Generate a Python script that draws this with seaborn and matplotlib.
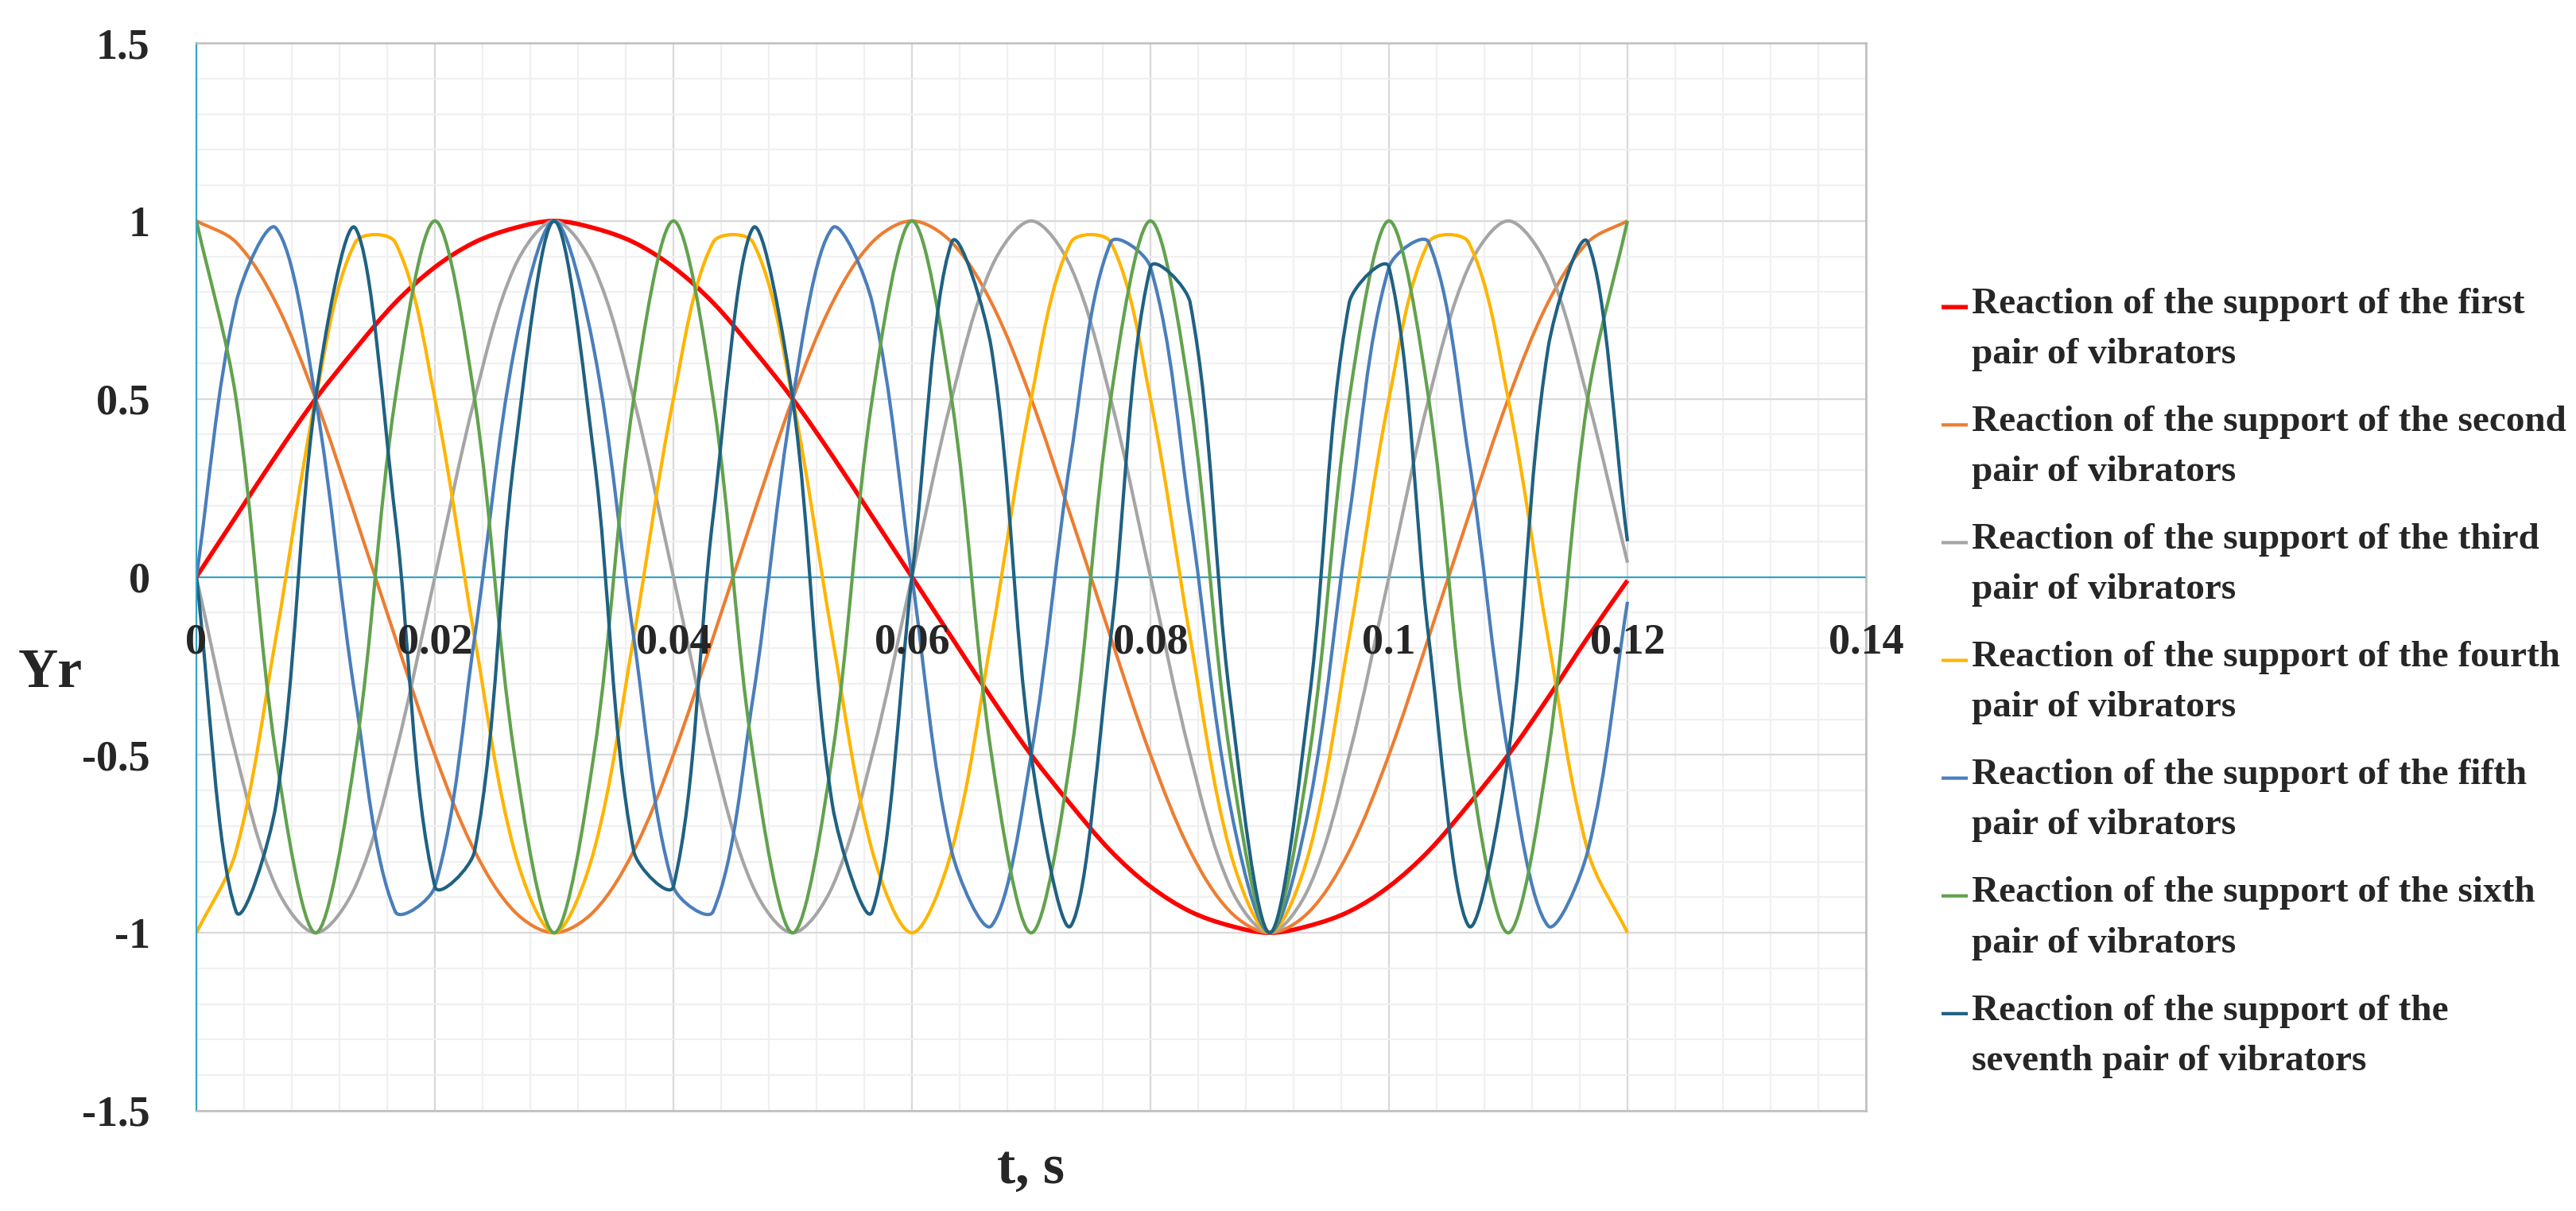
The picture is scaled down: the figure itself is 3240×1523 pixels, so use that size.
import numpy as np
import pandas as pd
import matplotlib
matplotlib.use("Agg")
import matplotlib.pyplot as plt
import matplotlib.patheffects as pe
from matplotlib.path import Path
from matplotlib.transforms import IdentityTransform
from matplotlib.ticker import MultipleLocator
from matplotlib.legend_handler import HandlerLine2D
from matplotlib.lines import Line2D
from matplotlib.font_manager import FontProperties
import seaborn as sns

# ---------------- data ----------------
t = [0, 0.00333, 0.00667, 0.01, 0.01333, 0.01667, 0.02, 0.02333, 0.02667, 0.03,
     0.03333, 0.03667, 0.04, 0.04333, 0.04667, 0.05, 0.05333, 0.05667, 0.06,
     0.06333, 0.06667, 0.07, 0.07333, 0.07667, 0.08, 0.08333, 0.08667, 0.09,
     0.09333, 0.09667, 0.1, 0.10333, 0.10667, 0.11, 0.11333, 0.11667, 0.12]

first = [0, 0.17, 0.34, 0.5, 0.64, 0.77, 0.87, 0.94, 0.98, 1, 0.98, 0.94, 0.87,
         0.77, 0.64, 0.5, 0.34, 0.17, 0, -0.17, -0.34, -0.5, -0.64, -0.77, -0.87,
         -0.94, -0.98, -1, -0.98, -0.94, -0.87, -0.77, -0.64, -0.5, -0.34, -0.17, -0.01]

second = [1, 0.94, 0.77, 0.5, 0.17, -0.17, -0.5, -0.77, -0.94, -1, -0.94, -0.77,
          -0.5, -0.17, 0.17, 0.5, 0.77, 0.94, 1, 0.94, 0.77, 0.5, 0.17, -0.17, -0.5,
          -0.77, -0.94, -1, -0.94, -0.77, -0.5, -0.17, 0.17, 0.5, 0.77, 0.94, 1]

third = [0, -0.5, -0.87, -1, -0.87, -0.5, 0, 0.5, 0.87, 1, 0.87, 0.5,
         0, -0.5, -0.87, -1, -0.87, -0.5, 0, 0.5, 0.87, 1, 0.87, 0.5,
         0, -0.5, -0.87, -1, -0.87, -0.5, 0, 0.5, 0.87, 1, 0.87, 0.5, 0.04]

fourth = [-1, -0.77, -0.17, 0.5, 0.94, 0.94, 0.5, -0.17, -0.77,
          -1, -0.77, -0.17, 0.5, 0.94, 0.94, 0.5, -0.17, -0.77,
          -1, -0.77, -0.17, 0.5, 0.94, 0.94, 0.5, -0.17, -0.77,
          -1, -0.77, -0.17, 0.5, 0.94, 0.94, 0.5, -0.17, -0.77, -1]

fifth = [0, 0.77, 0.98, 0.5, -0.34, -0.94, -0.87, -0.17, 0.64, 1, 0.64, -0.17,
         -0.87, -0.94, -0.34, 0.5, 0.98, 0.77, 0, -0.77, -0.98, -0.5, 0.34, 0.94,
         0.87, 0.17, -0.64, -1, -0.64, 0.17, 0.87, 0.94, 0.34, -0.5, -0.98, -0.77, -0.07]

sixth = [1, 0.5, -0.5, -1, -0.5, 0.5, 1, 0.5, -0.5, -1, -0.5, 0.5,
         1, 0.5, -0.5, -1, -0.5, 0.5, 1, 0.5, -0.5, -1, -0.5, 0.5,
         1, 0.5, -0.5, -1, -0.5, 0.5, 1, 0.5, -0.5, -1, -0.5, 0.5, 1]

seventh = [0, -0.94, -0.64, 0.5, 0.98, 0.17, -0.87, -0.77, 0.34, 1, 0.34, -0.77,
           -0.87, 0.17, 0.98, 0.5, -0.64, -0.94, 0, 0.94, 0.64, -0.5, -0.98, -0.17,
           0.87, 0.77, -0.34, -1, -0.34, 0.77, 0.87, -0.17, -0.98, -0.5, 0.64, 0.94, 0.1]

series_names = [
    "Reaction of the support of the first\npair of vibrators",
    "Reaction of the support of the second\npair of vibrators",
    "Reaction of the support of the third\npair of vibrators",
    "Reaction of the support of the fourth\npair of vibrators",
    "Reaction of the support of the fifth\npair of vibrators",
    "Reaction of the support of the sixth\npair of vibrators",
    "Reaction of the support of the\nseventh pair of vibrators",
]
series_values = [first, second, third, fourth, fifth, sixth, seventh]
colors = ["#FF0000", "#ED7D31", "#A5A5A5", "#FFB400", "#4A7EBB", "#62A24E", "#1F6182"]
widths = [2.0, 1.5, 1.5, 1.5, 1.5, 1.5, 1.5]

x_ticks = [0, 0.02, 0.04, 0.06, 0.08, 0.1, 0.12, 0.14]
x_labels = ["0", "0.02", "0.04", "0.06", "0.08", "0.1", "0.12", "0.14"]
y_ticks = [-1.5, -1, -0.5, 0, 0.5, 1, 1.5]
y_labels = ["-1.5", "-1", "-0.5", "0", "0.5", "1", "1.5"]

df = pd.DataFrame({
    "t": t * len(series_names),
    "Yr": [v for vals in series_values for v in vals],
    "series": [n for n in series_names for _ in t],
})


# ------------- Excel-like smoothed line rendering -------------
class ExcelSmooth(pe.AbstractPathEffect):
    """Draws the polyline as a smoothed (Bezier) line, like Excel's 'smoothed line'."""

    def draw_path(self, renderer, gc, tpath, affine, rgbFace=None):
        pts = affine.transform(tpath.vertices)
        n = len(pts)
        if n < 3:
            renderer.draw_path(gc, tpath, affine, rgbFace)
            return
        verts = [pts[0]]
        codes = [Path.MOVETO]
        for i in range(n - 1):
            p0 = pts[i - 1] if i > 0 else pts[i]
            p1 = pts[i]
            p2 = pts[i + 1]
            p3 = pts[i + 2] if i + 2 < n else pts[i + 1]
            d01 = np.hypot(*(p1 - p0))
            d12 = np.hypot(*(p2 - p1))
            d23 = np.hypot(*(p3 - p2))
            f1 = d12 / (3 * (d01 + d12)) if (d01 + d12) > 0 else 0
            f2 = d12 / (3 * (d12 + d23)) if (d12 + d23) > 0 else 0
            c1 = p1 + (p2 - p0) * f1
            c2 = p2 - (p3 - p1) * f2
            verts += [c1, c2, p2]
            codes += [Path.CURVE4] * 3
        renderer.draw_path(gc, Path(np.array(verts), codes), IdentityTransform(), rgbFace)


class TopLineHandler(HandlerLine2D):
    def __init__(self, dy, **kw):
        super().__init__(**kw)
        self.dy = dy

    def create_artists(self, legend, orig_handle, xdescent, ydescent, width,
                       height, fontsize, trans):
        arts = super().create_artists(legend, orig_handle, xdescent, ydescent,
                                      width, height, fontsize, trans)
        for a in arts:
            if isinstance(a, Line2D):
                a.set_ydata(np.asarray(a.get_ydata(), dtype=float) + self.dy)
        return arts


# ---------------- figure ----------------
sns.set_style("white")
plt.rcParams["font.family"] = ["Liberation Serif", "DejaVu Serif"]
plt.rcParams["font.weight"] = "bold"

W, H = 3240, 1523
fig = plt.figure(figsize=(W / 200, H / 200), dpi=200)
L, R, T, B = 247, 2347, 54, 1397
ax = fig.add_axes([L / W, 1 - B / H, (R - L) / W, (B - T) / H])

sns.lineplot(data=df, x="t", y="Yr", hue="series", hue_order=series_names,
             palette=dict(zip(series_names, colors)), sort=False,
             estimator=None, legend=False, ax=ax)
lines = list(ax.lines)
for ln, lw in zip(lines, widths):
    ln.set_linewidth(lw)
    ln.set_solid_capstyle("butt")
    ln.set_solid_joinstyle("round")
    ln.set_path_effects([ExcelSmooth()])

ax.set_xlim(0, 0.14)
ax.set_ylim(-1.5, 1.5)
ax.set_xticks(x_ticks)
ax.set_yticks(y_ticks, y_labels)
ax.xaxis.set_minor_locator(MultipleLocator(0.004))
ax.yaxis.set_minor_locator(MultipleLocator(0.1))
ax.grid(which="major", color="#D9D9D9", linewidth=0.8)
ax.grid(which="minor", color="#F0F0F0", linewidth=0.8)
ax.set_axisbelow(True)
ax.tick_params(axis="x", which="both", length=0, labelbottom=False)
ax.tick_params(axis="y", which="both", length=0, pad=21, labelsize=19.5)

cyan = "#35A5C8"
gray = "#BFBFBF"
ax.spines["left"].set_color(cyan)
ax.spines["left"].set_linewidth(0.8)
for s in ["top", "right", "bottom"]:
    ax.spines[s].set_color(gray)
    ax.spines[s].set_linewidth(0.9)
ax.axhline(0, color=cyan, linewidth=0.8, zorder=1.8)

ax.set_xlabel("t, s", fontsize=25, fontweight="bold", va="baseline")
ax.xaxis.set_label_coords(0.5, (B - 1488) / (B - T))
ax.set_ylabel("Yr", fontsize=25, fontweight="bold", rotation=0,
              ha="center", va="baseline")
ax.yaxis.set_label_coords((63 - L) / (R - L), (B - 864) / (B - T))

# x tick labels drawn on top of the curves, along the zero line
ax2 = ax.twiny()
ax2.set_xlim(0, 0.14)
ax2.set_xticks(x_ticks, x_labels)
ax2.xaxis.set_ticks_position("bottom")
ax2.spines["bottom"].set_position(("data", 0))
for s in ax2.spines.values():
    s.set_visible(False)
ax2.tick_params(axis="x", length=0, pad=21, labelsize=19.5)
ax2.grid(False)

leg_font = FontProperties(family=["Liberation Serif"], weight="bold", size=17)
leg = ax2.legend(lines, series_names, loc="upper left",
                 bbox_to_anchor=(2442 / W, 1 - 362 / H),
                 bbox_transform=fig.transFigure, frameon=False,
                 borderaxespad=0, borderpad=0, handlelength=0.7,
                 handletextpad=0.1, labelspacing=0.91, prop=leg_font,
                 handler_map={Line2D: TopLineHandler(10)})
for txt in leg.get_texts():
    txt.set_linespacing(1.66)

fig.savefig("out.png", dpi=200, facecolor="white")
